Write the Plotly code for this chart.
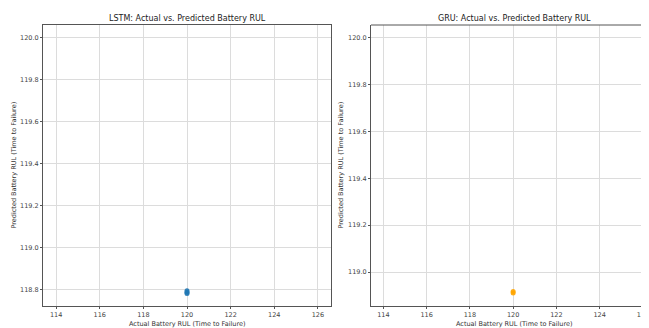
import plotly.graph_objects as go

# Data
lstm_actual = [120.0, 120.0, 120.0]
lstm_pred = [118.781, 118.788, 118.795]
gru_actual = [120.0, 120.0]
gru_pred = [118.910, 118.917]
ideal_line = [120.0, 120.0]  # min/max of actual RUL (zero-length reference line)

x_ticks = [114, 116, 118, 120, 122, 124, 126]
lstm_y_ticks = [118.8, 119.0, 119.2, 119.4, 119.6, 119.8, 120.0]
gru_y_ticks = [119.0, 119.2, 119.4, 119.6, 119.8, 120.0]

OFF = 8  # page body margin
W, H = 649 - OFF, 328 - OFF
font = "DejaVu Sans"
tick_col = "#444444"
grid_col = "#dcdcdc"
spine_col = "#555555"

fig = go.Figure()
fig.add_trace(go.Scatter(x=lstm_actual, y=lstm_pred, mode="markers",
                         marker=dict(color="#1f77b4", size=5, opacity=0.9),
                         xaxis="x", yaxis="y", showlegend=False))
fig.add_trace(go.Scatter(x=ideal_line, y=ideal_line, mode="lines",
                         line=dict(color="red", dash="dash", width=1.5),
                         xaxis="x", yaxis="y", showlegend=False))
fig.add_trace(go.Scatter(x=gru_actual, y=gru_pred, mode="markers",
                         marker=dict(color="#ffa500", size=5, opacity=0.9),
                         xaxis="x2", yaxis="y2", showlegend=False))
fig.add_trace(go.Scatter(x=ideal_line, y=ideal_line, mode="lines",
                         line=dict(color="red", dash="dash", width=1.5),
                         xaxis="x2", yaxis="y2", showlegend=False))

def px_x(p):
    return (p - OFF) / W

def px_y(p):
    return 1 - (p - OFF) / H

top, bot = 25, 306
l1, r1 = 43, 331
l2, r2 = 371, 649

common_axis = dict(showgrid=True, gridcolor=grid_col, gridwidth=1,
                   zeroline=False, showline=True, linecolor=spine_col,
                   linewidth=1, ticks="outside", ticklen=2, tickcolor=spine_col,
                   tickfont=dict(family=font, size=6.5, color=tick_col),
                   ticklabeloverflow="allow", automargin=False)

fig.update_layout(
    width=W, height=H,
    margin=dict(l=0, r=0, t=0, b=0),
    paper_bgcolor="white", plot_bgcolor="white",
    xaxis=dict(domain=[px_x(l1), px_x(r1)], range=[113.4, 126.6],
               tickvals=x_ticks, anchor="y", mirror=True, **common_axis),
    yaxis=dict(domain=[px_y(bot), px_y(top)], range=[118.722, 120.061],
               tickvals=lstm_y_ticks, tickformat=".1f", anchor="x", mirror=True,
               **common_axis),
    xaxis2=dict(domain=[px_x(l2), 1.0], range=[113.43, 126.28],
                tickvals=x_ticks, anchor="y2", mirror=False, **common_axis),
    yaxis2=dict(domain=[px_y(bot), px_y(top)], range=[118.855, 120.055],
                tickvals=gru_y_ticks, tickformat=".1f", anchor="x2", mirror=False,
                **common_axis),
)

# top spine for the cropped right panel
fig.add_shape(type="line", xref="paper", yref="paper",
              x0=px_x(l2), x1=1.0, y0=px_y(top), y1=px_y(top),
              line=dict(color=spine_col, width=1))

ann = []
for cx, title in [((l1 + r1) / 2, "LSTM: Actual vs. Predicted Battery RUL"),
                  ((l2 + 658) / 2, "GRU: Actual vs. Predicted Battery RUL")]:
    ann.append(dict(text=title, x=px_x(cx), y=px_y(18), xref="paper", yref="paper",
                    showarrow=False, xanchor="center", yanchor="middle",
                    font=dict(family=font, size=8, color="#222222")))
for cx in [(l1 + r1) / 2, (l2 + 658) / 2]:
    ann.append(dict(text="Actual Battery RUL (Time to Failure)", x=px_x(cx), y=px_y(328.5),
                    xref="paper", yref="paper", showarrow=False, borderpad=0,
                    xanchor="center", yanchor="bottom",
                    font=dict(family=font, size=6.5, color="#333333")))
for cx in [13, 340]:
    ann.append(dict(text="Predicted Battery RUL (Time to Failure)", x=px_x(cx),
                    y=px_y((top + bot) / 2), xref="paper", yref="paper",
                    showarrow=False, textangle=-90, xanchor="center", yanchor="middle",
                    font=dict(family=font, size=6.5, color="#333333")))
fig.update_layout(annotations=ann)

fig.write_html("out.html")
